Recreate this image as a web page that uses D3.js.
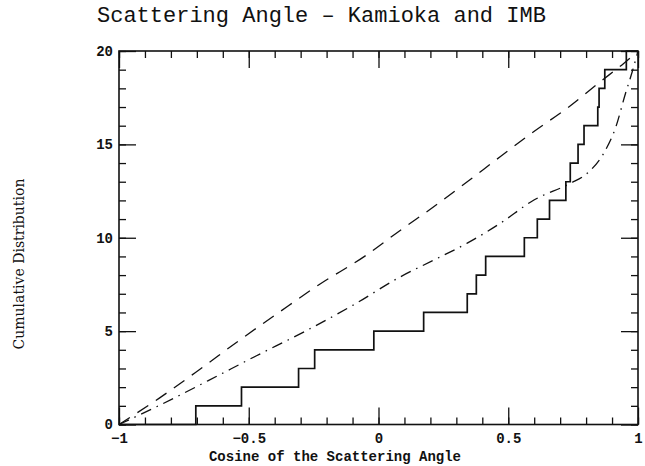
<!DOCTYPE html>
<html>
<head>
<meta charset="utf-8">
<script src="https://cdn.jsdelivr.net/npm/d3@7"></script>
<style>
  body { margin: 0; background: #fff; }
  svg { display: block; }
</style>
</head>
<body>
<script>
// cosine of each event, sorted: the cumulative count rises by one at each
var events = [-0.704, -0.528, -0.308, -0.246, -0.018, 0.174, 0.342, 0.377, 0.413, 0.562,
              0.612, 0.659, 0.722, 0.739, 0.769, 0.792, 0.845, 0.850, 0.872, 0.955];

// dashed expectation curve
var dashedCos = [-1, -0.846, -0.692, -0.538, -0.385, -0.231, -0.051, 0.086, 0.214, 0.342, 0.470, 0.599, 0.727, 0.855, 0.946, 1];
var dashedCum = [0, 1.40, 2.92, 4.49, 5.99, 7.47, 9.03, 10.42, 11.67, 13.0, 14.35, 15.69, 16.94, 18.36, 19.35, 20];

// dash-dot expectation curve
var dashDotCos = [-1, -0.842, -0.656, -0.472, -0.286, -0.103, 0.086, 0.214, 0.342, 0.470, 0.599, 0.740, 0.804, 0.868, 0.915, 0.952, 0.978, 1];
var dashDotCum = [0, 1.04, 2.35, 3.67, 4.97, 6.35, 7.92, 8.81, 9.71, 10.78, 12.02, 12.92, 13.45, 14.53, 15.95, 17.74, 18.9, 20];

var xMajor = [-1, -0.5, 0, 0.5, 1];
var xMinor = d3.range(-10, 11).map(d => d / 10);
var yMajor = [0, 5, 10, 15, 20];
var yMinor = d3.range(0, 21);

var title = "Scattering Angle \u2013 Kamioka and IMB";
var xTitle = "Cosine of the Scattering Angle";
var yTitle = "Cumulative Distribution";

var W = 645, H = 466;
var plotL = 119, plotR = 638, plotT = 51, plotB = 424.5;

var svg = d3.select("body").append("svg")
    .attr("width", W)
    .attr("height", H);

var x = d3.scaleLinear().domain([-1, 1]).range([plotL, plotR]);
var y = d3.scaleLinear().domain([0, 20]).range([plotB, plotT]);

var fmt = d => d === 0 ? "0" : String(d).replace("-", "\u2212");

function axisStyle(g) {
    g.select(".domain").remove();
    g.selectAll("line").attr("stroke", "#111").attr("stroke-width", 1.3);
    g.selectAll("text")
        .attr("fill", "#111")
        .style("font-family", "'Liberation Mono', 'DejaVu Sans Mono', monospace")
        .style("font-weight", "bold")
        .style("font-size", "14px");
}

// bottom
svg.append("g").attr("transform", `translate(0,${plotB})`)
    .call(d3.axisBottom(x).tickValues(xMinor).tickSize(-7).tickFormat(""))
    .call(axisStyle);
svg.append("g").attr("transform", `translate(0,${plotB})`)
    .call(d3.axisBottom(x).tickValues(xMajor).tickSize(-17).tickPadding(9).tickFormat(fmt))
    .call(axisStyle);
// top
svg.append("g").attr("transform", `translate(0,${plotT})`)
    .call(d3.axisTop(x).tickValues(xMinor).tickSize(-7).tickFormat(""))
    .call(axisStyle);
svg.append("g").attr("transform", `translate(0,${plotT})`)
    .call(d3.axisTop(x).tickValues(xMajor).tickSize(-17).tickFormat(""))
    .call(axisStyle);
// left
svg.append("g").attr("transform", `translate(${plotL},0)`)
    .call(d3.axisLeft(y).tickValues(yMinor).tickSize(-7).tickFormat(""))
    .call(axisStyle);
svg.append("g").attr("transform", `translate(${plotL},0)`)
    .call(d3.axisLeft(y).tickValues(yMajor).tickSize(-17).tickPadding(6).tickFormat(fmt))
    .call(axisStyle);
// right
svg.append("g").attr("transform", `translate(${plotR},0)`)
    .call(d3.axisRight(y).tickValues(yMinor).tickSize(-7).tickFormat(""))
    .call(axisStyle);
svg.append("g").attr("transform", `translate(${plotR},0)`)
    .call(d3.axisRight(y).tickValues(yMajor).tickSize(-17).tickFormat(""))
    .call(axisStyle);

// frame
svg.append("rect")
    .attr("x", plotL).attr("y", plotT)
    .attr("width", plotR - plotL).attr("height", plotB - plotT)
    .attr("fill", "none")
    .attr("stroke", "#111")
    .attr("stroke-width", 1.6);

var line = d3.line().x(d => x(d[0])).y(d => y(d[1]));

// dashed curve
svg.append("path")
    .datum(d3.zip(dashedCos, dashedCum))
    .attr("d", line.curve(d3.curveMonotoneX))
    .attr("fill", "none")
    .attr("stroke", "#111")
    .attr("stroke-width", 1.3)
    .attr("stroke-dasharray", "13,9");

// dash-dot curve
svg.append("path")
    .datum(d3.zip(dashDotCos, dashDotCum))
    .attr("d", line.curve(d3.curveMonotoneX))
    .attr("fill", "none")
    .attr("stroke", "#111")
    .attr("stroke-width", 1.3)
    .attr("stroke-dasharray", "11,6,1.5,6");

// cumulative step
var steps = [[-1, 0]].concat(events.map((e, i) => [e, i + 1]), [[1, events.length]]);
svg.append("path")
    .datum(steps)
    .attr("d", line.curve(d3.curveStepAfter))
    .attr("fill", "none")
    .attr("stroke", "#111")
    .attr("stroke-width", 1.7);

// titles
svg.append("text")
    .attr("x", 97).attr("y", 22)
    .attr("fill", "#111")
    .style("font-family", "'Liberation Mono', 'DejaVu Sans Mono', monospace")
    .style("font-size", "22px")
    .text(title);

svg.append("text")
    .attr("x", 335).attr("y", 461)
    .attr("text-anchor", "middle")
    .attr("fill", "#111")
    .style("font-family", "'Liberation Mono', 'DejaVu Sans Mono', monospace")
    .style("font-weight", "bold")
    .style("font-size", "14px")
    .text(xTitle);

svg.append("text")
    .attr("transform", "translate(24,264) rotate(-90)")
    .attr("text-anchor", "middle")
    .attr("fill", "#111")
    .style("font-family", "'DejaVu Serif', 'Liberation Serif', serif")
    .style("font-size", "14px")
    .text(yTitle);
</script>
</body>
</html>
